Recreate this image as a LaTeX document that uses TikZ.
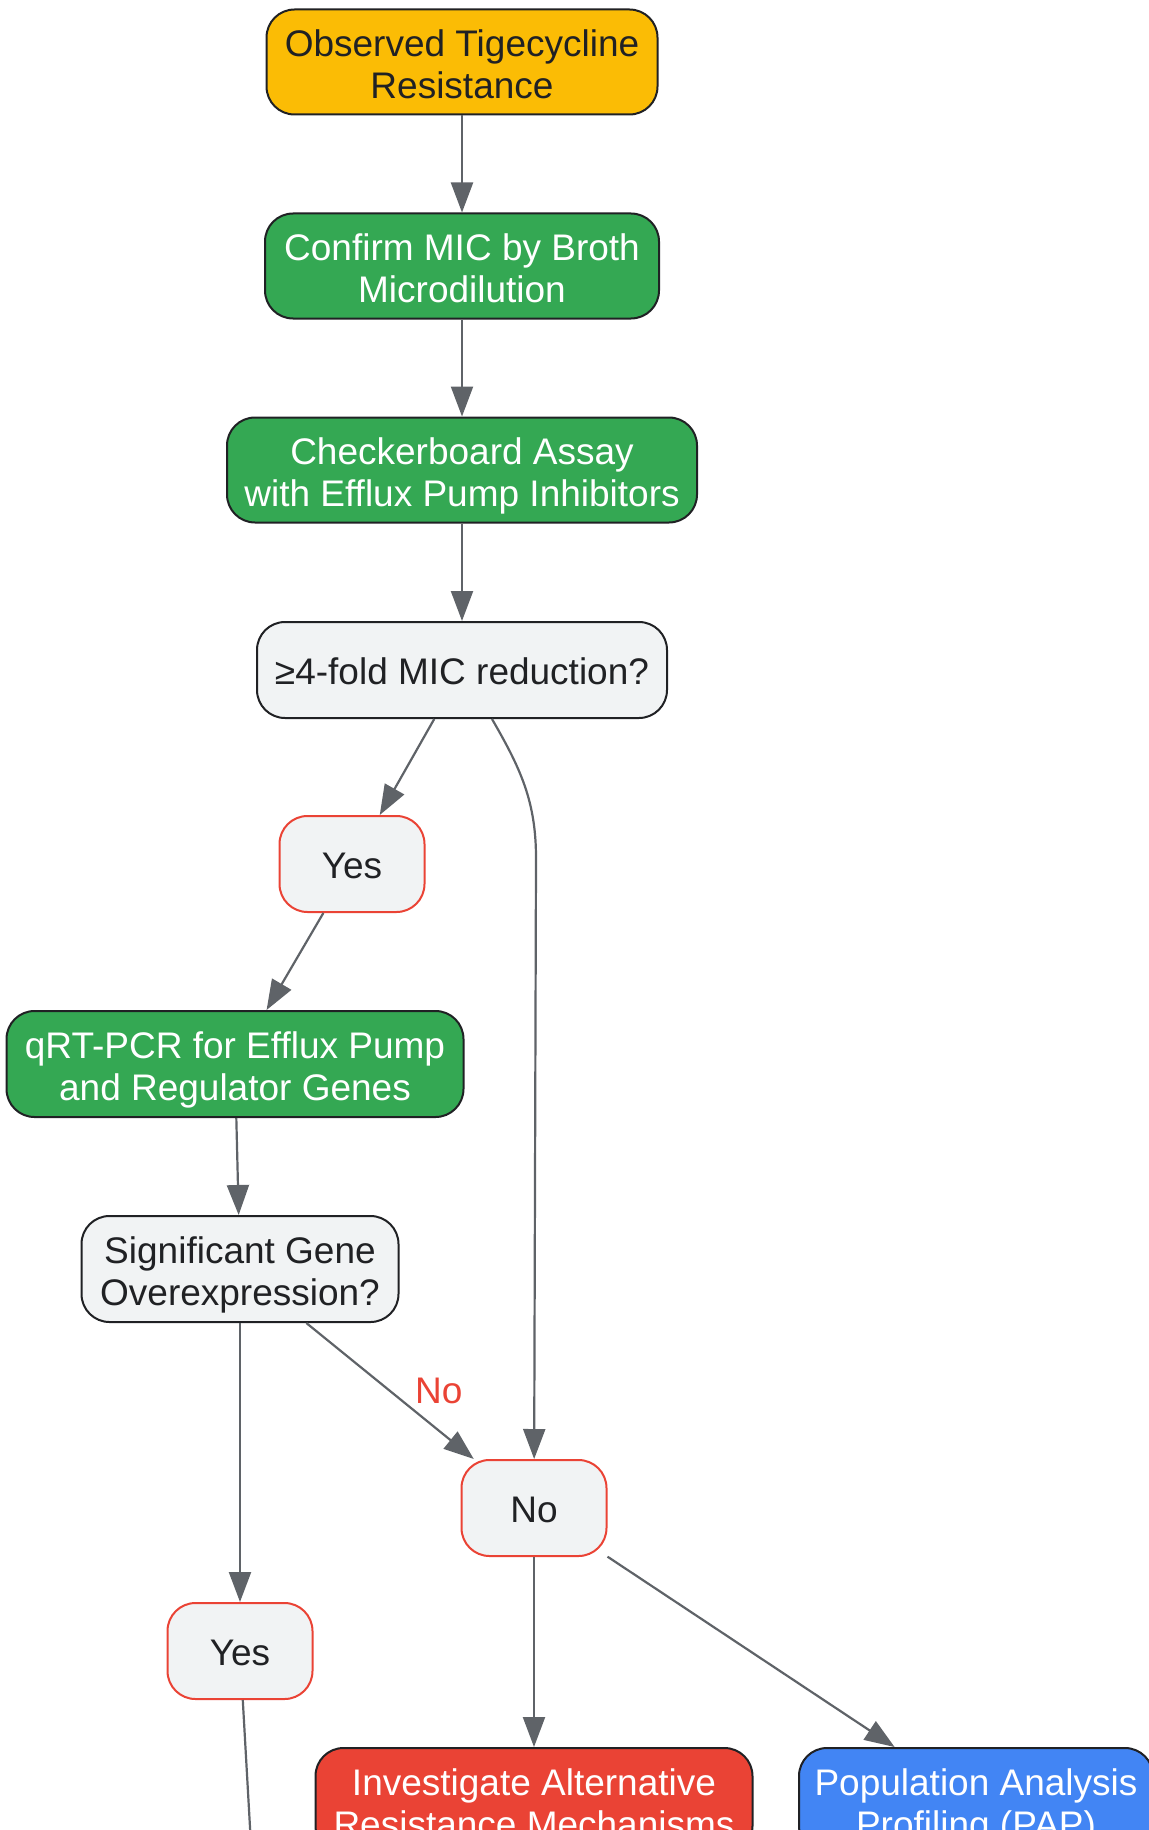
\documentclass[tikz,border=0pt]{standalone}
\usepackage{fontspec}
\setmainfont{Liberation Sans}
\usetikzlibrary{arrows.meta}
\definecolor{amber}{HTML}{FBBC05}
\definecolor{okgreen}{HTML}{34A853}
\definecolor{alert}{HTML}{EA4335}
\definecolor{sky}{HTML}{4285F4}
\definecolor{paper}{HTML}{F1F3F4}
\definecolor{ink}{HTML}{202124}
\definecolor{wire}{HTML}{5F6368}
\newcommand{\duo}[2]{\rule{0pt}{15.5pt}#1\\\raisebox{0pt}[\height][0pt]{#2}}
\newcommand{\uno}[1]{\raisebox{0pt}[14.2pt][0pt]{#1}}
\begin{document}
\begin{tikzpicture}[x=0.5pt,y=-0.5pt,
        txt/.style={font=\fontsize{18.5}{21}\selectfont},
        box/.style={txt,draw=ink,line width=1pt,rounded corners=14pt,align=center,
            inner sep=0pt},
        act/.style={box,fill=okgreen,text=white},
        ask/.style={box,fill=paper,text=ink},
        ans/.style={box,draw=alert,fill=paper,text=ink,minimum width=72.5pt,minimum height=48pt},
        line/.style={draw=wire,line width=1.1pt},
        flow/.style={line,-{Triangle[length=15pt,width=11pt]}}]
    \path[use as bounding box,clip] (0,0) rectangle (1149,1830);
    \node[box,fill=amber,text=ink,minimum width=195.5pt,minimum height=52.5pt] (obs) at (462,62) {\duo{Observed Tigecycline}{Resistance}};
    \node[act,minimum width=197pt,minimum height=52.5pt] (mic) at (462,266) {\duo{Confirm MIC by Broth}{Microdilution}};
    \node[act,minimum width=235pt,minimum height=52.5pt] (chk) at (462,470) {\duo{Checkerboard Assay}{with Efflux Pump Inhibitors}};
    \node[ask,minimum width=205pt,minimum height=48pt] (fold) at (462,670) {\uno{≥4-fold MIC reduction?}};
    \node[ans] (yesa) at (352,864) {\uno{Yes}};
    \node[act,minimum width=228.5pt,minimum height=53pt] (pcr) at (235,1064) {\duo{qRT-PCR for Efflux Pump}{and Regulator Genes}};
    \node[ask,minimum width=158.5pt,minimum height=53pt] (sig) at (240,1269) {\duo{Significant Gene}{Overexpression?}};
    \node[ans] (noa) at (534,1508) {\uno{No}};
    \node[ans] (yesb) at (240,1651) {\uno{Yes}};
    \node[box,fill=alert,text=white,minimum width=218.5pt,minimum height=53pt] (alt) at (534,1801) {\duo{Investigate Alternative}{Resistance Mechanisms}};
    \node[box,fill=sky,text=white,minimum width=177pt,minimum height=53pt] (pap) at (976,1801) {\duo{Population Analysis}{Profiling (PAP)}};
    \coordinate (bend) at (536,858);
    \coordinate (tail) at (253,1880);

    \draw[flow] (obs) -- (mic);
    \draw[flow] (mic) -- (chk);
    \draw[flow] (chk) -- (fold);
    \draw[flow] (fold) -- (yesa);
    \draw[flow] ([xshift=15pt]fold.south) to[out=-60,in=90] (bend) -- (noa);
    \draw[flow] (yesa) -- (pcr);
    \draw[flow] (pcr) -- (sig);
    \draw[flow] (sig) -- (yesb);
    \draw[flow] (sig) -- node[txt,pos=0.5,right=12pt,inner sep=0pt,text=alert] (nolbl) {No} (noa);
    \draw[flow] (noa) -- (alt);
    \draw[flow] (noa) -- (pap);
    \draw[line] (yesb) -- (tail);
\end{tikzpicture}
\end{document}
